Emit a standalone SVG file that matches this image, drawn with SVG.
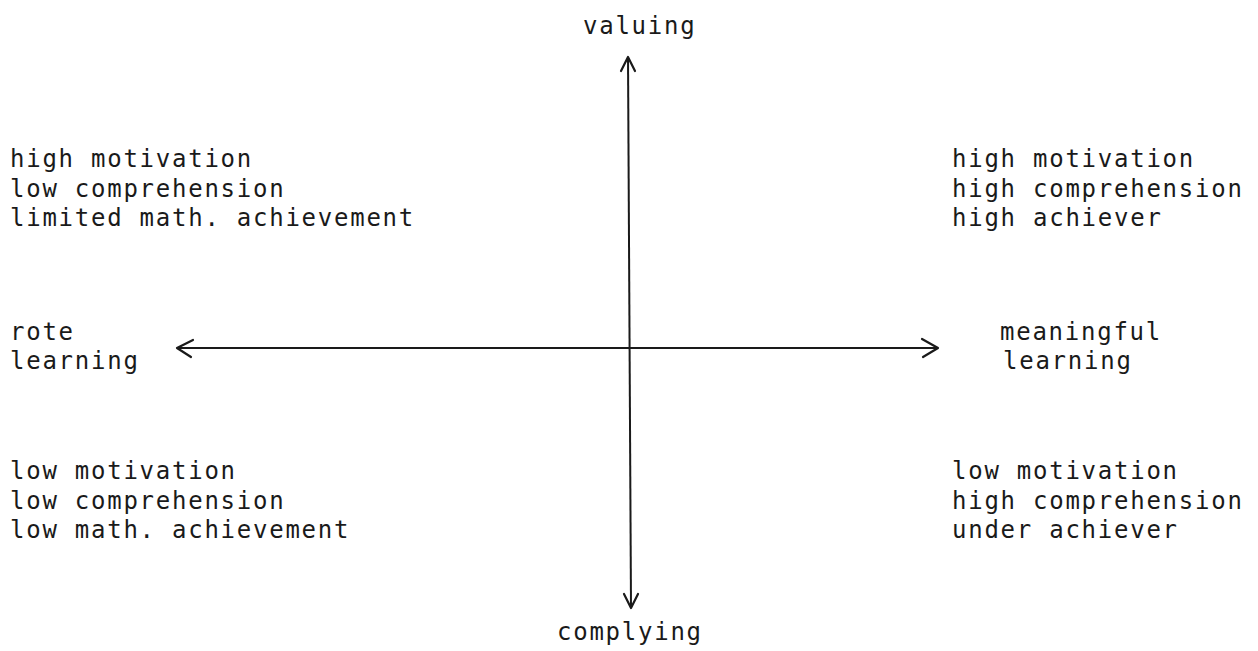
<svg xmlns="http://www.w3.org/2000/svg" width="1258" height="651" viewBox="0 0 1258 651">
<defs>
<style>
text{font-family:"DejaVu Sans Mono","Liberation Mono",monospace;font-size:24px;letter-spacing:1.75px;fill:#1a1a1a}
.ax{stroke:#1a1a1a;stroke-width:2;fill:none}
.hd{stroke:#1a1a1a;stroke-width:2.2;fill:none;stroke-linecap:round;stroke-linejoin:round}
</style>
</defs>
<rect width="1258" height="651" fill="#ffffff"/>
<g id="connectors">
<line class="ax" x1="628" y1="57" x2="631" y2="608"/>
<polyline class="hd" points="621,71 628,57 635,71"/>
<polyline class="hd" points="624,594 631,608 638,594"/>
<line class="ax" x1="177" y1="348" x2="938" y2="348"/>
<polyline class="hd" points="193,340 177,348 191,357"/>
<polyline class="hd" points="922,339 938,348 923,357"/>
</g>
<g id="valuing"><text x="583" y="34">valuing</text></g>
<g id="complying"><text x="557" y="640">complying</text></g>
<g id="rote-learning"><text x="10" y="340">rote</text><text x="10" y="369">learning</text></g>
<g id="meaningful-learning"><text x="1000" y="340">meaningful</text><text x="1003" y="369">learning</text></g>
<g id="top-left"><text x="10" y="167">high motivation</text><text x="10" y="197">low comprehension</text><text x="10" y="226">limited math. achievement</text></g>
<g id="top-right"><text x="952" y="167">high motivation</text><text x="952" y="197">high comprehension</text><text x="952" y="226">high achiever</text></g>
<g id="bottom-left"><text x="10" y="479">low motivation</text><text x="10" y="509">low comprehension</text><text x="10" y="538">low math. achievement</text></g>
<g id="bottom-right"><text x="952" y="479">low motivation</text><text x="952" y="509">high comprehension</text><text x="952" y="538">under achiever</text></g>
</svg>
